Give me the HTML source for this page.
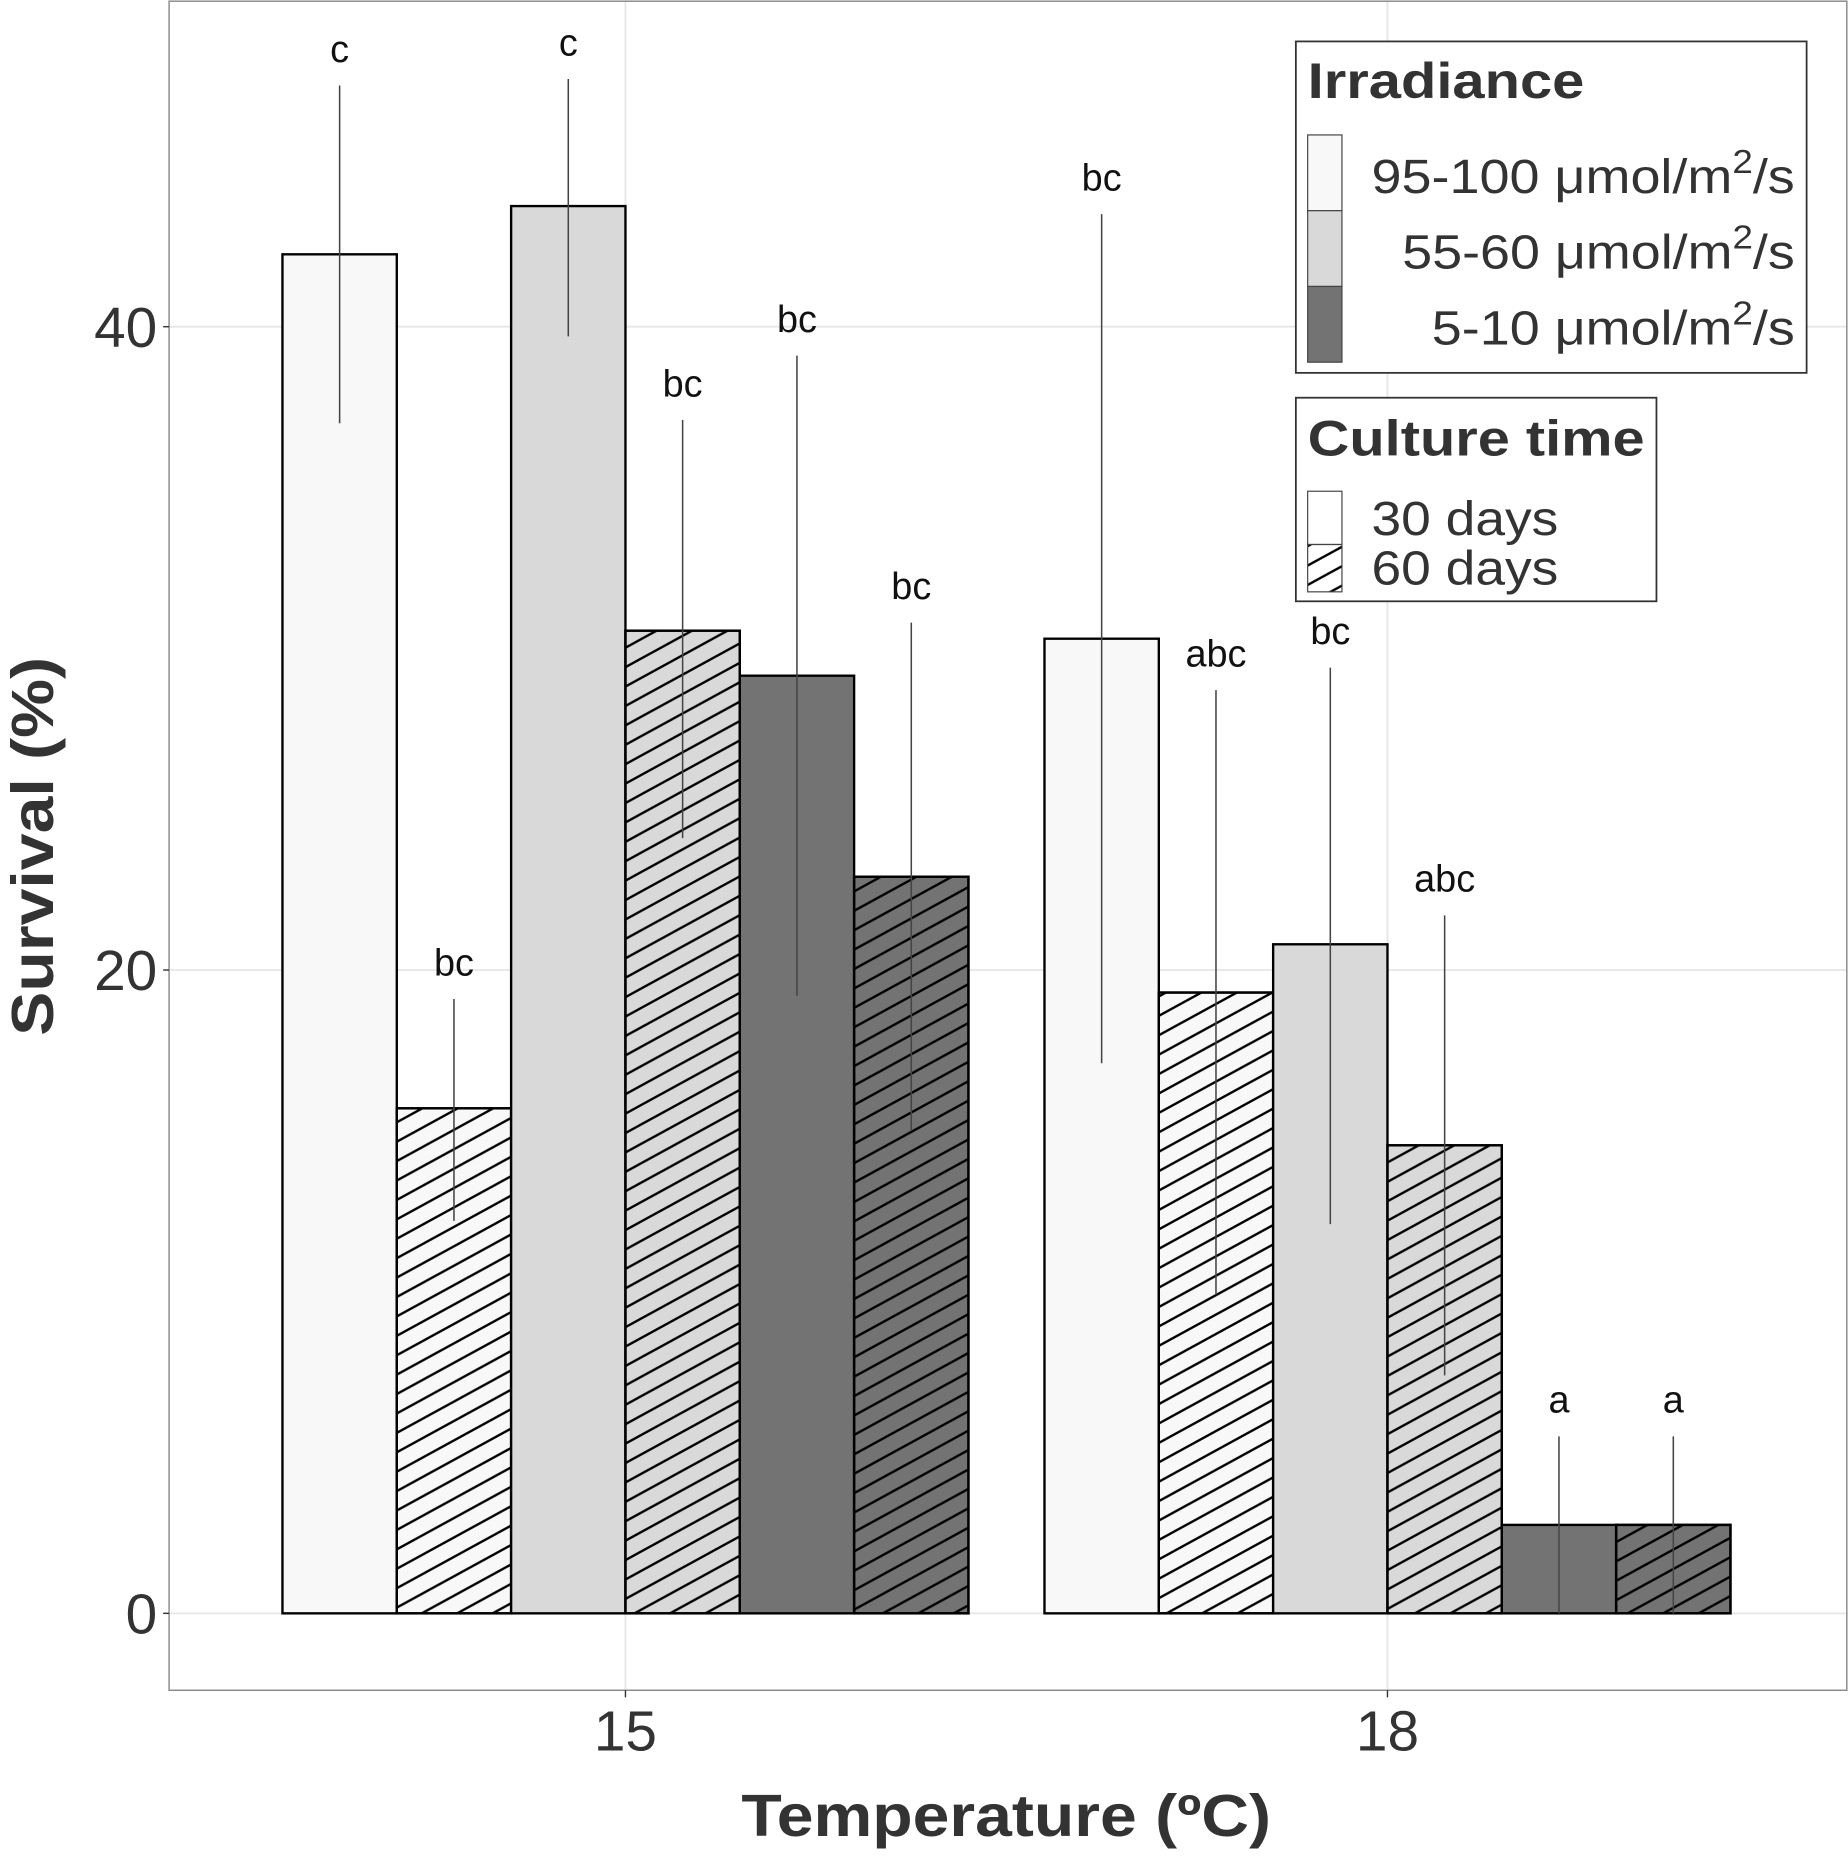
<!DOCTYPE html>
<html><head><meta charset="utf-8"><style>
html,body{margin:0;padding:0;background:#fff}
svg{display:block}
text{font-family:"Liberation Sans",sans-serif}
</style></head><body>
<svg id="chart" width="1848" height="1856" viewBox="0 0 1563 1568" preserveAspectRatio="none" xmlns="http://www.w3.org/2000/svg">
<defs>
<pattern id="hatch" patternUnits="userSpaceOnUse" width="30" height="16.4">
<line x1="-30" y1="32.8" x2="30" y2="0" stroke="#000" stroke-width="2"/>
<line x1="0" y1="32.8" x2="60" y2="0" stroke="#000" stroke-width="2"/>
<line x1="-30" y1="16.4" x2="30" y2="-16.4" stroke="#000" stroke-width="2"/>
</pattern>
</defs>
<rect x="0" y="0" width="1563" height="1568" fill="#fff"/>
<g id="grid"></g>
<g id="bars"></g>
<g id="errs"></g>
<g id="labels"></g>
<rect x="143" y="1" width="1419" height="1427" fill="none" stroke="#888" stroke-width="1.2"/>
<g id="axes"></g>
<text x="627" y="1551" font-size="50" font-weight="bold" fill="#333" textLength="448" lengthAdjust="spacingAndGlyphs">Temperature (ºC)</text>
<text transform="translate(45,875) rotate(-90)" font-size="50" font-weight="bold" fill="#333" textLength="320" lengthAdjust="spacingAndGlyphs">Survival (%)</text>
<g>
<rect x="1096" y="35" width="432" height="280" fill="#fff" stroke="#333" stroke-width="1.5"/>
<text x="1106" y="83" font-size="42" font-weight="bold" fill="#333" textLength="234" lengthAdjust="spacingAndGlyphs">Irradiance</text>
<rect x="1106" y="114" width="29" height="64" fill="#f8f8f8" stroke="#444" stroke-width="1"/>
<rect x="1106" y="178" width="29" height="64" fill="#d9d9d9" stroke="#444" stroke-width="1"/>
<rect x="1106" y="242" width="29" height="64" fill="#737373" stroke="#444" stroke-width="1"/>
<text x="1160" y="163" font-size="41" fill="#333" textLength="358" lengthAdjust="spacingAndGlyphs">95-100 μmol/m<tspan dy="-17" font-size="28">2</tspan><tspan dy="17">/s</tspan></text>
<text x="1186" y="227" font-size="41" fill="#333" textLength="332" lengthAdjust="spacingAndGlyphs">55-60 μmol/m<tspan dy="-17" font-size="28">2</tspan><tspan dy="17">/s</tspan></text>
<text x="1211" y="291" font-size="41" fill="#333" textLength="307" lengthAdjust="spacingAndGlyphs">5-10 μmol/m<tspan dy="-17" font-size="28">2</tspan><tspan dy="17">/s</tspan></text>
</g>
<g>
<rect x="1096" y="336" width="305" height="172" fill="#fff" stroke="#333" stroke-width="1.5"/>
<text x="1106" y="385" font-size="42" font-weight="bold" fill="#333" textLength="285" lengthAdjust="spacingAndGlyphs">Culture time</text>
<rect x="1106" y="415" width="29" height="45" fill="#fff" stroke="#444" stroke-width="1"/>
<rect x="1106" y="460" width="29" height="40" fill="url(#hatch)" stroke="#444" stroke-width="1"/>
<text x="1160" y="452" font-size="41" fill="#333" textLength="158" lengthAdjust="spacingAndGlyphs">30 days</text>
<text x="1160" y="494" font-size="41" fill="#333" textLength="158" lengthAdjust="spacingAndGlyphs">60 days</text>
</g>
</svg>
<script>
const temps = ["15", "18"];
const irradiance = ["95-100", "95-100", "55-60", "55-60", "5-10", "5-10"];
const cultureTime = ["30", "60", "30", "60", "30", "60"];
const survival15 = [42.25, 15.7, 43.75, 30.55, 29.15, 22.9];
const survival18 = [30.3, 19.3, 20.8, 14.55, 2.75, 2.75];
const upper15 = [47.5, 19.1, 47.7, 37.1, 39.1, 30.8];
const lower15 = [37.0, 12.2, 39.7, 24.1, 19.2, 15.0];
const upper18 = [43.5, 28.7, 29.4, 21.7, 5.5, 5.5];
const lower18 = [17.1, 9.9, 12.1, 7.4, 0, 0];
const letters15 = ["c", "bc", "c", "bc", "bc", "bc"];
const letters18 = ["bc", "abc", "bc", "abc", "a", "a"];
const yTicks = [0, 20, 40];

const NS = "http://www.w3.org/2000/svg";
const y = v => 1363 - v * 27.175;
const xCenter = i => 529 + i * 644.5;
const barW = 96.7;
const fills = {"95-100": "#f8f8f8", "55-60": "#d9d9d9", "5-10": "#737373"};
function mk(tag, attrs, parent) {
  const el = document.createElementNS(NS, tag);
  for (const k in attrs) el.setAttribute(k, attrs[k]);
  parent.appendChild(el);
  return el;
}
const grid = document.getElementById("grid");
const axes = document.getElementById("axes");
yTicks.forEach(t => {
  const g = mk("line", {x1: 143, x2: 1562, y1: y(t), y2: y(t), stroke: "#e6e6e6", "stroke-width": 1.5}, grid);
  
  
  const tk = mk("line", {x1: 138, x2: 143, y1: y(t), y2: y(t), stroke: "#333", "stroke-width": 1.2}, axes);
  
  
  const lb = mk("text", {x: 133, y: y(t) + 17, "font-size": 48, fill: "#333", "text-anchor": "end"}, axes);
  lb.textContent = t;
  
  
});
temps.forEach((t, i) => {
  const g = mk("line", {x1: xCenter(i), x2: xCenter(i), y1: 1, y2: 1428, stroke: "#e6e6e6", "stroke-width": 1.5}, grid);
  
  
  const tk = mk("line", {x1: xCenter(i), x2: xCenter(i), y1: 1428, y2: 1434, stroke: "#333", "stroke-width": 1.2}, axes);
  
  
  const lb = mk("text", {x: xCenter(i), y: 1479, "font-size": 48, fill: "#333", "text-anchor": "middle"}, axes);
  lb.textContent = t;
  
  
});
const barsG = document.getElementById("bars");
const errG = document.getElementById("errs");
const labG = document.getElementById("labels");
const series = [[survival15, upper15, lower15, letters15], [survival18, upper18, lower18, letters18]];
series.forEach((s, gi) => {
  const [vals, up, lo, lets] = s;
  vals.forEach((v, j) => {
    const x0 = xCenter(gi) - 3 * barW + j * barW;
    const r = mk("rect", {x: x0, y: y(v), width: barW, height: y(0) - y(v), fill: fills[irradiance[j]], stroke: "#000", "stroke-width": 2}, barsG);
    
    
    if (cultureTime[j] === "60") {
      const h = mk("rect", {x: x0, y: y(v), width: barW, height: y(0) - y(v), fill: "url(#hatch)", stroke: "#000", "stroke-width": 2}, barsG);
      
      
    }
    const cx = x0 + barW / 2;
    const e = mk("line", {x1: cx, x2: cx, y1: y(up[j]), y2: y(lo[j]), stroke: "#444", "stroke-width": 1.3}, errG);
    
    
    const l = mk("text", {x: cx, y: y(up[j]) - 20, "font-size": 32, fill: "#111", "text-anchor": "middle"}, labG);
    l.textContent = lets[j];
    
    
  });
});
</script>
</body></html>
